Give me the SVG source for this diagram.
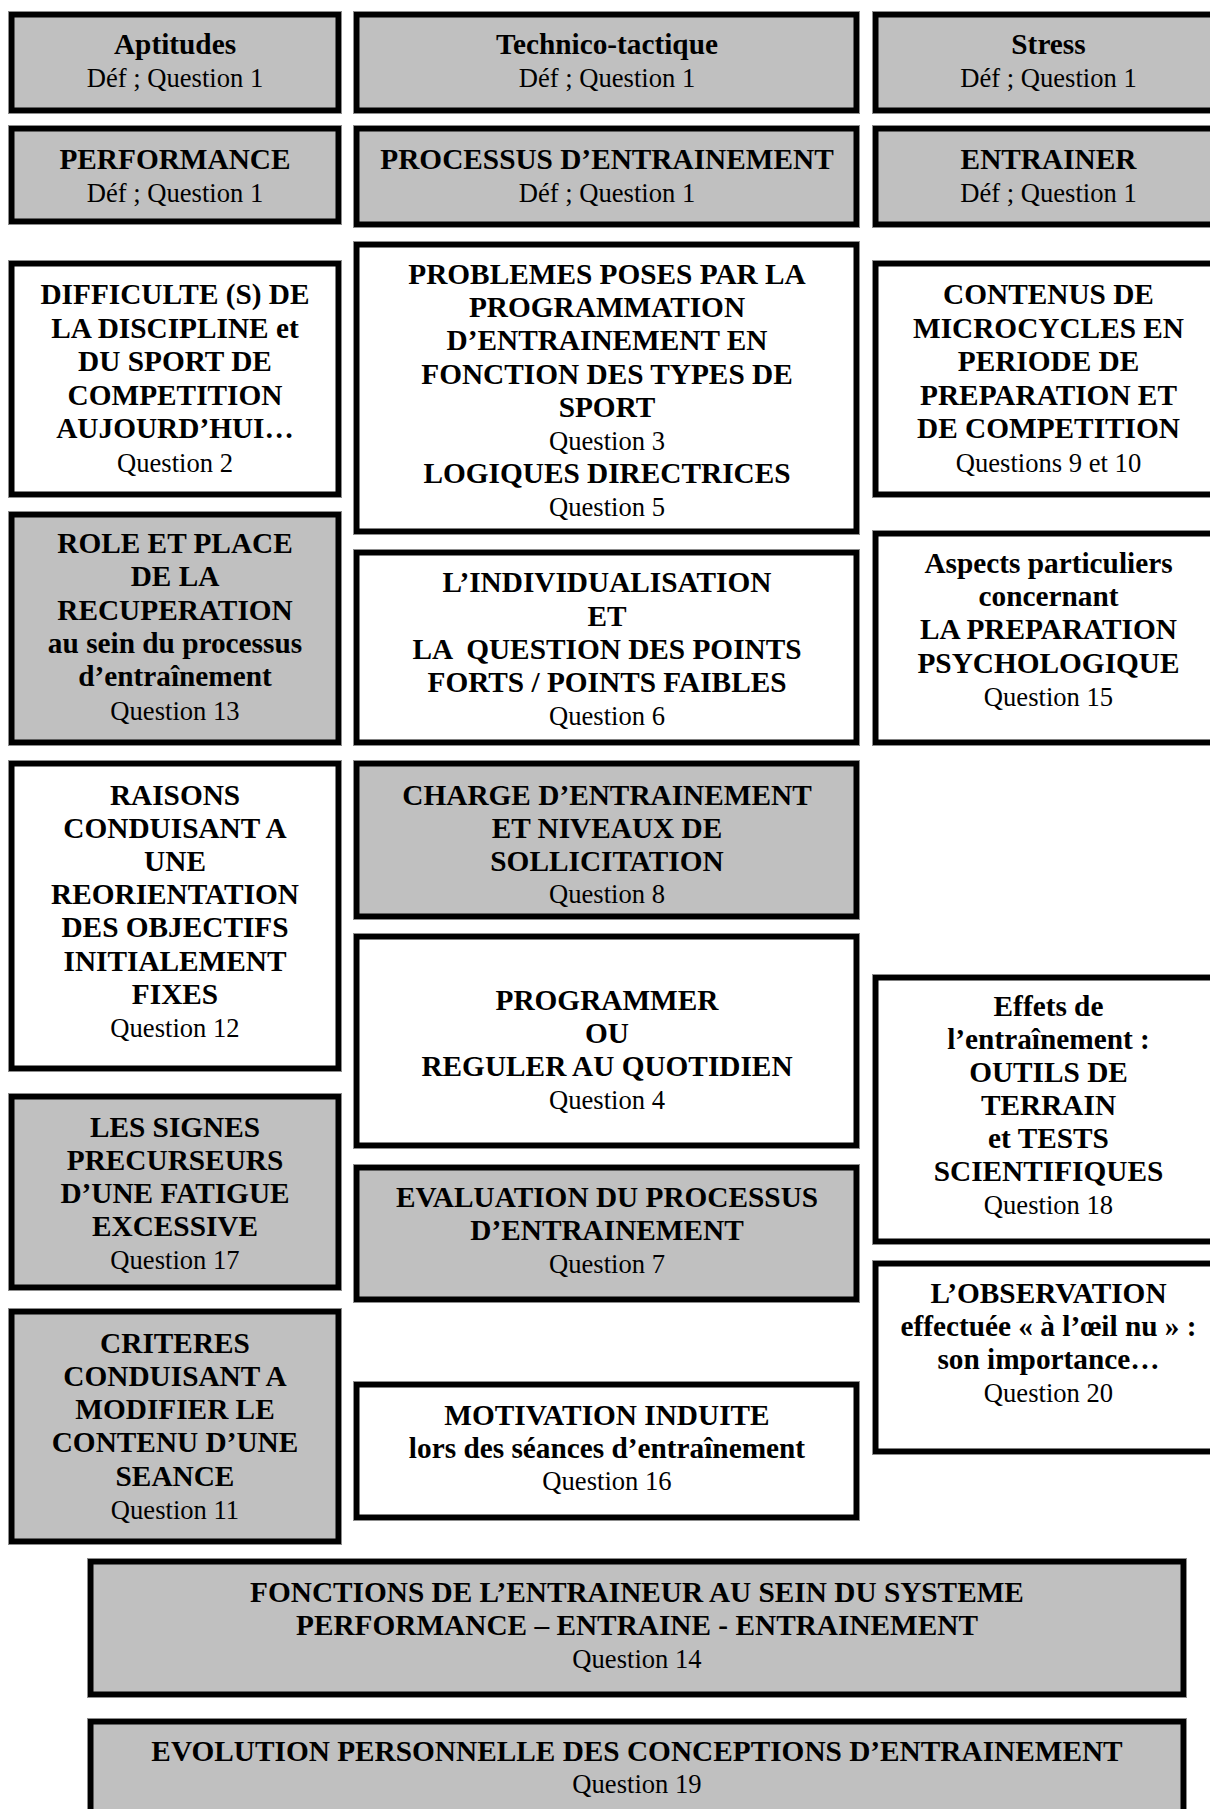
<svg xmlns="http://www.w3.org/2000/svg" width="1210" height="1809" viewBox="0 0 1210 1809">
<style>
.bx{stroke:#000;stroke-width:5.5}
.g{fill:#c0c0c0}
.w{fill:#fff}
.ol{fill:none;stroke:#8c8c8c;stroke-width:1}
text{font-family:"Liberation Serif","Times New Roman",serif;text-anchor:middle;fill:#000}
.b{font-size:29.3px;font-weight:bold}
.r{font-size:26.6px}
</style>
<rect width="1210" height="1809" fill="#fff"/>
<g id="connectors"/>

<g id="n-aptitudes">
<rect class="ol" x="8.5" y="11.5" width="333" height="102"/>
<rect class="bx g" x="11.75" y="14.75" width="326.5" height="95.5"/>
<text class="b" x="175" y="53.5">Aptitudes</text>
<text class="r" x="175" y="87">Déf ; Question 1</text>
</g>
<g id="n-technico">
<rect class="ol" x="353.5" y="11.5" width="506" height="102"/>
<rect class="bx g" x="356.75" y="14.75" width="499.5" height="95.5"/>
<text class="b" x="607" y="53.5">Technico-tactique</text>
<text class="r" x="607" y="87">Déf ; Question 1</text>
</g>
<g id="n-stress">
<rect class="ol" x="872.5" y="11.5" width="358" height="102"/>
<rect class="bx g" x="875.75" y="14.75" width="351.5" height="95.5"/>
<text class="b" x="1048.5" y="53.5">Stress</text>
<text class="r" x="1048.5" y="87">Déf ; Question 1</text>
</g>

<g id="n-performance">
<rect class="ol" x="8.5" y="125.5" width="333" height="99"/>
<rect class="bx g" x="11.75" y="128.75" width="326.5" height="92.5"/>
<text class="b" x="175" y="169">PERFORMANCE</text>
<text class="r" x="175" y="202">Déf ; Question 1</text>
</g>
<g id="n-processus">
<rect class="ol" x="353.5" y="125.5" width="506" height="102"/>
<rect class="bx g" x="356.75" y="128.75" width="499.5" height="95.5"/>
<text class="b" x="607" y="169">PROCESSUS D’ENTRAINEMENT</text>
<text class="r" x="607" y="202">Déf ; Question 1</text>
</g>
<g id="n-entrainer">
<rect class="ol" x="872.5" y="125.5" width="358" height="102"/>
<rect class="bx g" x="875.75" y="128.75" width="351.5" height="95.5"/>
<text class="b" x="1048.5" y="169">ENTRAINER</text>
<text class="r" x="1048.5" y="202">Déf ; Question 1</text>
</g>

<g id="n-difficulte">
<rect class="ol" x="8.5" y="260.5" width="333" height="237"/>
<rect class="bx w" x="11.75" y="263.75" width="326.5" height="230.5"/>
<text class="b" x="175" y="304">DIFFICULTE (S) DE</text>
<text class="b" x="175" y="337.5">LA DISCIPLINE et</text>
<text class="b" x="175" y="371">DU SPORT DE</text>
<text class="b" x="175" y="404.5">COMPETITION</text>
<text class="b" x="175" y="438">AUJOURD’HUI…</text>
<text class="r" x="175" y="471.5">Question 2</text>
</g>
<g id="n-problemes">
<rect class="ol" x="353.5" y="241.5" width="506" height="293"/>
<rect class="bx w" x="356.75" y="244.75" width="499.5" height="286.5"/>
<text class="b" x="607" y="284">PROBLEMES POSES PAR LA</text>
<text class="b" x="607" y="317">PROGRAMMATION</text>
<text class="b" x="607" y="350">D’ENTRAINEMENT EN</text>
<text class="b" x="607" y="383.5">FONCTION DES TYPES DE</text>
<text class="b" x="607" y="416.5">SPORT</text>
<text class="r" x="607" y="449.5">Question 3</text>
<text class="b" x="607" y="482.5">LOGIQUES DIRECTRICES</text>
<text class="r" x="607" y="515.5">Question 5</text>
</g>
<g id="n-contenus">
<rect class="ol" x="872.5" y="260.5" width="358" height="237"/>
<rect class="bx w" x="875.75" y="263.75" width="351.5" height="230.5"/>
<text class="b" x="1048.5" y="304">CONTENUS DE</text>
<text class="b" x="1048.5" y="337.5">MICROCYCLES EN</text>
<text class="b" x="1048.5" y="371">PERIODE DE</text>
<text class="b" x="1048.5" y="404.5">PREPARATION ET</text>
<text class="b" x="1048.5" y="438">DE COMPETITION</text>
<text class="r" x="1048.5" y="471.5">Questions 9 et 10</text>
</g>

<g id="n-role">
<rect class="ol" x="8.5" y="511.5" width="333" height="234"/>
<rect class="bx g" x="11.75" y="514.75" width="326.5" height="227.5"/>
<text class="b" x="175" y="553">ROLE ET PLACE</text>
<text class="b" x="175" y="586.3">DE LA</text>
<text class="b" x="175" y="619.6">RECUPERATION</text>
<text class="b" x="175" y="652.9">au sein du processus</text>
<text class="b" x="175" y="686.2">d’entraînement</text>
<text class="r" x="175" y="719.5">Question 13</text>
</g>
<g id="n-individualisation">
<rect class="ol" x="353.5" y="549.5" width="506" height="196"/>
<rect class="bx w" x="356.75" y="552.75" width="499.5" height="189.5"/>
<text class="b" x="607" y="592.3">L’INDIVIDUALISATION</text>
<text class="b" x="607" y="625.5">ET</text>
<text class="b" x="607" y="658.8" style="white-space:pre">LA  QUESTION DES POINTS</text>
<text class="b" x="607" y="692">FORTS / POINTS FAIBLES</text>
<text class="r" x="607" y="725.3">Question 6</text>
</g>
<g id="n-aspects">
<rect class="ol" x="872.5" y="530.5" width="358" height="215"/>
<rect class="bx w" x="875.75" y="533.75" width="351.5" height="208.5"/>
<text class="b" x="1048.5" y="572.7">Aspects particuliers</text>
<text class="b" x="1048.5" y="606">concernant</text>
<text class="b" x="1048.5" y="639.2">LA PREPARATION</text>
<text class="b" x="1048.5" y="672.5">PSYCHOLOGIQUE</text>
<text class="r" x="1048.5" y="705.7">Question 15</text>
</g>

<g id="n-raisons">
<rect class="ol" x="8.5" y="760.5" width="333" height="311"/>
<rect class="bx w" x="11.75" y="763.75" width="326.5" height="304.5"/>
<text class="b" x="175" y="804.6">RAISONS</text>
<text class="b" x="175" y="837.8">CONDUISANT A</text>
<text class="b" x="175" y="871">UNE</text>
<text class="b" x="175" y="904.2">REORIENTATION</text>
<text class="b" x="175" y="937.4">DES OBJECTIFS</text>
<text class="b" x="175" y="970.6">INITIALEMENT</text>
<text class="b" x="175" y="1003.8">FIXES</text>
<text class="r" x="175" y="1037">Question 12</text>
</g>
<g id="n-charge">
<rect class="ol" x="353.5" y="760.5" width="506" height="159"/>
<rect class="bx g" x="356.75" y="763.75" width="499.5" height="152.5"/>
<text class="b" x="607" y="804.6">CHARGE D’ENTRAINEMENT</text>
<text class="b" x="607" y="837.6">ET NIVEAUX DE</text>
<text class="b" x="607" y="870.6">SOLLICITATION</text>
<text class="r" x="607" y="902.5">Question 8</text>
</g>
<g id="n-programmer">
<rect class="ol" x="353.5" y="933.5" width="506" height="215"/>
<rect class="bx w" x="356.75" y="936.75" width="499.5" height="208.5"/>
<text class="b" x="607" y="1010">PROGRAMMER</text>
<text class="b" x="607" y="1043.1">OU</text>
<text class="b" x="607" y="1076.2">REGULER AU QUOTIDIEN</text>
<text class="r" x="607" y="1109.3">Question 4</text>
</g>
<g id="n-effets">
<rect class="ol" x="872.5" y="974.5" width="358" height="270"/>
<rect class="bx w" x="875.75" y="977.75" width="351.5" height="263.5"/>
<text class="b" x="1048.5" y="1015.7">Effets de</text>
<text class="b" x="1048.5" y="1048.8">l’entraînement :</text>
<text class="b" x="1048.5" y="1082">OUTILS DE</text>
<text class="b" x="1048.5" y="1115.1">TERRAIN</text>
<text class="b" x="1048.5" y="1148.2">et TESTS</text>
<text class="b" x="1048.5" y="1181.3">SCIENTIFIQUES</text>
<text class="r" x="1048.5" y="1214.4">Question 18</text>
</g>

<g id="n-signes">
<rect class="ol" x="8.5" y="1093.5" width="333" height="197"/>
<rect class="bx g" x="11.75" y="1096.75" width="326.5" height="190.5"/>
<text class="b" x="175" y="1136.8">LES SIGNES</text>
<text class="b" x="175" y="1169.8">PRECURSEURS</text>
<text class="b" x="175" y="1202.8">D’UNE FATIGUE</text>
<text class="b" x="175" y="1235.8">EXCESSIVE</text>
<text class="r" x="175" y="1268.8">Question 17</text>
</g>
<g id="n-evaluation">
<rect class="ol" x="353.5" y="1164.5" width="506" height="138"/>
<rect class="bx g" x="356.75" y="1167.75" width="499.5" height="131.5"/>
<text class="b" x="607" y="1207">EVALUATION DU PROCESSUS</text>
<text class="b" x="607" y="1240">D’ENTRAINEMENT</text>
<text class="r" x="607" y="1272.5">Question 7</text>
</g>
<g id="n-observation">
<rect class="ol" x="872.5" y="1260.5" width="358" height="194"/>
<rect class="bx w" x="875.75" y="1263.75" width="351.5" height="187.5"/>
<text class="b" x="1048.5" y="1303">L’OBSERVATION</text>
<text class="b" x="1048.5" y="1336">effectuée « à l’œil nu » :</text>
<text class="b" x="1048.5" y="1369">son importance…</text>
<text class="r" x="1048.5" y="1401.5">Question 20</text>
</g>

<g id="n-criteres">
<rect class="ol" x="8.5" y="1308.5" width="333" height="236"/>
<rect class="bx g" x="11.75" y="1311.75" width="326.5" height="229.5"/>
<text class="b" x="175" y="1352.5">CRITERES</text>
<text class="b" x="175" y="1385.8">CONDUISANT A</text>
<text class="b" x="175" y="1419.1">MODIFIER LE</text>
<text class="b" x="175" y="1452.4">CONTENU D’UNE</text>
<text class="b" x="175" y="1485.7">SEANCE</text>
<text class="r" x="175" y="1519">Question 11</text>
</g>
<g id="n-motivation">
<rect class="ol" x="353.5" y="1381.5" width="506" height="139"/>
<rect class="bx w" x="356.75" y="1384.75" width="499.5" height="132.5"/>
<text class="b" x="607" y="1425">MOTIVATION INDUITE</text>
<text class="b" x="607" y="1458">lors des séances d’entraînement</text>
<text class="r" x="607" y="1490">Question 16</text>
</g>

<g id="n-fonctions">
<rect class="ol" x="87.5" y="1558.5" width="1099" height="139"/>
<rect class="bx g" x="90.75" y="1561.75" width="1092.5" height="132.5"/>
<text class="b" x="637" y="1601.6">FONCTIONS DE L’ENTRAINEUR AU SEIN DU SYSTEME</text>
<text class="b" x="637" y="1634.6">PERFORMANCE – ENTRAINE - ENTRAINEMENT</text>
<text class="r" x="637" y="1667.7">Question 14</text>
</g>
<g id="n-evolution">
<rect class="ol" x="87.5" y="1718.5" width="1099" height="112"/>
<rect class="bx g" x="90.75" y="1721.75" width="1092.5" height="105.5"/>
<text class="b" x="637" y="1761">EVOLUTION PERSONNELLE DES CONCEPTIONS D’ENTRAINEMENT</text>
<text class="r" x="637" y="1793">Question 19</text>
</g>
</svg>
